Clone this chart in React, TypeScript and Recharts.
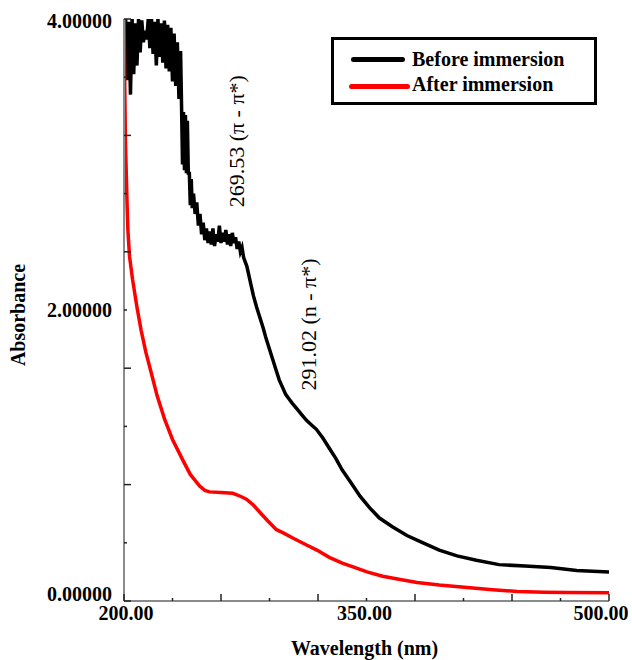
import { LineChart, Line, XAxis, YAxis, Legend, ReferenceDot } from 'recharts'

// Before immersion (black), wavelength in nm / absorbance
const beforeWl = [
  200, 201, 202, 203, 204, 205, 206, 207, 208, 209, 210, 211, 212, 213, 214, 215, 216, 217, 218, 219,
  220, 221, 222, 223, 224, 225, 226, 227, 228, 229, 230, 231, 232, 233, 234, 235, 235.6, 236.2, 236.8,
  237.4, 238, 238.6, 239.2, 239.8, 240.4, 241, 241.6, 242.2, 243, 244, 245, 246, 247, 248, 249, 250,
  251, 252, 253, 254, 255, 256, 257, 258, 259, 260, 261, 262, 263, 264, 265, 266, 267, 268, 269, 270,
  271, 272, 273, 274, 276, 278, 280, 282, 284, 286, 288, 290, 292, 294, 296, 298, 300, 302, 304, 307,
  310, 313, 316, 319, 323, 327, 331, 335, 340, 346, 352, 358, 366, 375, 385, 395, 406, 418, 432, 448,
  464, 480, 500,
]
const beforeAbs = [
  3.6, 4.0, 3.58, 3.98, 3.48, 4.0, 3.62, 3.97, 3.68, 4.0, 3.77, 3.99, 3.84, 3.92, 3.86, 4.0, 3.8, 4.0, 3.76, 3.98,
  3.68, 4.0, 3.74, 3.97, 3.7, 3.99, 3.66, 3.96, 3.64, 3.94, 3.57, 3.9, 3.54, 3.84, 3.45, 3.78, 3.4, 3.0, 3.36,
  2.96, 3.34, 2.94, 3.3, 2.93, 2.95, 2.72, 2.9, 2.7, 2.8, 2.66, 2.74, 2.58, 2.66, 2.52, 2.6, 2.48,
  2.56, 2.46, 2.54, 2.45, 2.56, 2.44, 2.52, 2.47, 2.58, 2.46, 2.53, 2.47, 2.55, 2.45, 2.52, 2.44, 2.53, 2.46, 2.5, 2.42,
  2.47, 2.4, 2.43, 2.36, 2.3, 2.2, 2.1, 2.02, 1.95, 1.88, 1.8, 1.73, 1.66, 1.59, 1.52, 1.47, 1.42, 1.39, 1.36, 1.32,
  1.28, 1.24, 1.21, 1.18, 1.12, 1.05, 0.98, 0.9, 0.82, 0.72, 0.64, 0.57, 0.51, 0.45, 0.4, 0.35, 0.31, 0.28, 0.25, 0.24,
  0.23, 0.21, 0.2,
]

// After immersion (red)
const afterWl = [
  200, 200.4, 200.9, 202, 202.4, 203.4, 205.3, 208, 210.6, 213.5, 216.8, 220.5, 225.1, 230, 236.3, 241,
  246.8, 250, 253, 260, 267.3, 272, 275.7, 280, 284, 289, 294.3, 298.2, 305, 312, 319.3, 327, 335, 343,
  350.3, 360, 370, 381.3, 395, 412.3, 428, 443.3, 460, 474.2, 500,
]
const afterAbs = [
  4.1, 3.6, 3.15, 2.69, 2.55, 2.37, 2.21, 2.02, 1.86, 1.71, 1.57, 1.41, 1.25, 1.11, 0.97, 0.87,
  0.79, 0.76, 0.75, 0.745, 0.74, 0.72, 0.7, 0.66, 0.61, 0.55, 0.49, 0.47, 0.43, 0.39, 0.35, 0.3, 0.26, 0.23,
  0.2, 0.17, 0.15, 0.127, 0.11, 0.093, 0.078, 0.065, 0.06, 0.058, 0.056,
]

const seriesNames = ['Before immersion', 'After immersion']
const xTicks = [200, 230, 260, 290, 320, 350, 380, 410, 440, 470, 500]
const xLabels = [200, 350, 500]
const yTicks = [0, 0.4, 0.8, 1.2, 1.6, 2, 2.4, 2.8, 3.2, 3.6, 4]
const yLabels = [0, 2, 4]

const beforeData = beforeWl.map((wl, i) => ({ wl, a: beforeAbs[i] }))
const afterData = afterWl.map((wl, i) => ({ wl, a: afterAbs[i] }))

const FONT = '"Liberation Serif", "Times New Roman", serif'
const FRAME = '#8a8a8a'
const TICK = '#222'

const isLongX = (v: number) => Math.round((v - 200) / 30) % 2 === 0
const isLongY = (v: number) => Math.round(v / 0.4) % 2 === 0

const tickText = { fontFamily: FONT, fontSize: 20, fontWeight: 'bold' as const }

function BottomTick(props: any) {
  const { x, y, payload } = props
  const v = payload.value
  const len = isLongX(v) ? 7 : 3
  const shift = v === 500 ? -8 : v === 200 ? 2 : -2
  return (
    <g>
      <line x1={x} y1={y} x2={x} y2={y - len} stroke={TICK} strokeWidth={1.5} />
      {xLabels.includes(v) && (
        <text x={x + shift} y={y + 19} textAnchor="middle" style={tickText} fill="#000">
          {v.toFixed(2)}
        </text>
      )}
    </g>
  )
}

function TopTick(props: any) {
  const { x, y, payload } = props
  const len = isLongX(payload.value) ? 7 : 3
  return <line x1={x} y1={y} x2={x} y2={y + len} stroke={TICK} strokeWidth={1.5} />
}

function LeftTick(props: any) {
  const { x, y, payload } = props
  const v = payload.value
  const len = isLongY(v) ? 7 : 3
  const dy = v === 0 ? -7 : v === 4 ? 2 : 0
  return (
    <g>
      <line x1={x} y1={y} x2={x + len} y2={y} stroke={TICK} strokeWidth={1.5} />
      {yLabels.includes(v) && (
        <text x={x - 12} y={y + dy + 7} textAnchor="end" style={tickText} fill="#000">
          {v.toFixed(5)}
        </text>
      )}
    </g>
  )
}

function RightTick(props: any) {
  const { x, y, payload } = props
  const len = isLongY(payload.value) ? 7 : 3
  return <line x1={x} y1={y} x2={x - len} y2={y} stroke={TICK} strokeWidth={1.5} />
}

function LegendBox(props: any) {
  const items = [...(props.payload ?? [])].sort(
    (a: any, b: any) => seriesNames.indexOf(a.value) - seriesNames.indexOf(b.value),
  )
  return (
    <div
      style={{
        position: 'relative',
        width: 266,
        height: 68,
        boxSizing: 'border-box',
        border: '3px solid #000',
        background: '#fff',
        fontFamily: FONT,
        fontWeight: 'bold',
        fontSize: 20,
      }}
    >
      {items.map((it: any, i: number) => (
        <div key={it.value} style={{ position: 'absolute', left: 0, top: i === 0 ? 7 : 32, height: 24, width: '100%' }}>
          <div
            style={{
              position: 'absolute',
              left: i === 0 ? 17 : 15,
              top: i === 0 ? 10 : 12,
              width: i === 0 ? 54 : 61,
              height: 5,
              borderRadius: 3,
              background: it.color,
            }}
          />
          <span style={{ position: 'absolute', left: 78, top: 0, lineHeight: '24px', whiteSpace: 'nowrap', color: '#000' }}>
            {it.value}
          </span>
        </div>
      ))}
    </div>
  )
}

function Annotation({ viewBox, text }: any) {
  const cx = viewBox.x + viewBox.width / 2
  const cy = viewBox.y + viewBox.height / 2
  return (
    <text
      x={cx}
      y={cy}
      transform={`rotate(-90, ${cx}, ${cy})`}
      textAnchor="middle"
      dominantBaseline="central"
      style={{ fontFamily: FONT, fontSize: 22 }}
      fill="#000"
    >
      {text}
    </text>
  )
}

export default function App() {
  return (
    <div style={{ position: 'absolute', left: 0, top: 0, background: '#fff' }}>
      <LineChart width={632} height={660} margin={{ top: 19, right: 23, bottom: 19, left: 0 }}>
        <XAxis
          xAxisId="b"
          type="number"
          dataKey="wl"
          domain={[200, 500]}
          allowDataOverflow
          ticks={xTicks}
          interval={0}
          height={40}
          tickSize={0}
          tickMargin={0}
          tickLine={false}
          axisLine={{ stroke: FRAME, strokeWidth: 2 }}
          tick={<BottomTick />}
          label={{
            content: (p: any) => (
              <text
                x={p.viewBox.x + p.viewBox.width / 2 - 2}
                y={p.viewBox.y + 54}
                textAnchor="middle"
                style={{ fontFamily: FONT, fontWeight: 'bold', fontSize: 20 }}
                fill="#000"
              >
                Wavelength (nm)
              </text>
            ),
          }}
        />
        <XAxis
          xAxisId="t"
          orientation="top"
          type="number"
          dataKey="wl"
          domain={[200, 500]}
          allowDataOverflow
          ticks={xTicks}
          interval={0}
          height={0}
          tickSize={0}
          tickMargin={0}
          tickLine={false}
          axisLine={{ stroke: FRAME, strokeWidth: 2 }}
          tick={<TopTick />}
        />
        <YAxis
          yAxisId="l"
          type="number"
          domain={[0, 4]}
          allowDataOverflow
          ticks={yTicks}
          interval={0}
          width={124}
          tickSize={0}
          tickMargin={0}
          tickLine={false}
          axisLine={{ stroke: FRAME, strokeWidth: 2 }}
          tick={<LeftTick />}
          label={{
            content: (p: any) => {
              const cx = 25
              const cy = p.viewBox.y + p.viewBox.height / 2 + 5
              return (
                <text
                  x={cx}
                  y={cy}
                  transform={`rotate(-90, ${cx}, ${cy})`}
                  textAnchor="middle"
                  style={{ fontFamily: FONT, fontWeight: 'bold', fontSize: 20 }}
                  fill="#000"
                >
                  Absorbance
                </text>
              )
            },
          }}
        />
        <YAxis
          yAxisId="r"
          orientation="right"
          type="number"
          domain={[0, 4]}
          allowDataOverflow
          ticks={yTicks}
          interval={0}
          width={0}
          tickSize={0}
          tickMargin={0}
          tickLine={false}
          axisLine={{ stroke: FRAME, strokeWidth: 2 }}
          tick={<RightTick />}
        />
        <Legend
          layout="vertical"
          verticalAlign="middle"
          align="center"
          content={<LegendBox />}
          wrapperStyle={{ left: 331, top: 37, width: 266, height: 68 }}
        />
        <Line
          xAxisId="b"
          yAxisId="l"
          data={beforeData}
          dataKey="a"
          name={seriesNames[0]}
          type="linear"
          stroke="#000"
          strokeWidth={3.5}
          dot={false}
          isAnimationActive={false}
        />
        <Line
          xAxisId="b"
          yAxisId="l"
          data={afterData}
          dataKey="a"
          name={seriesNames[1]}
          type="linear"
          stroke="#f00"
          strokeWidth={3.5}
          dot={false}
          isAnimationActive={false}
        />
        <ReferenceDot
          xAxisId="b"
          yAxisId="l"
          x={269.7}
          y={3.16}
          r={0}
          fill="none"
          stroke="none"
          label={<Annotation text="269.53 (π - π*)" />}
        />
        <ReferenceDot
          xAxisId="b"
          yAxisId="l"
          x={314.4}
          y={1.9}
          r={0}
          fill="none"
          stroke="none"
          label={<Annotation text="291.02 (n - π*)" />}
        />
      </LineChart>
    </div>
  )
}
